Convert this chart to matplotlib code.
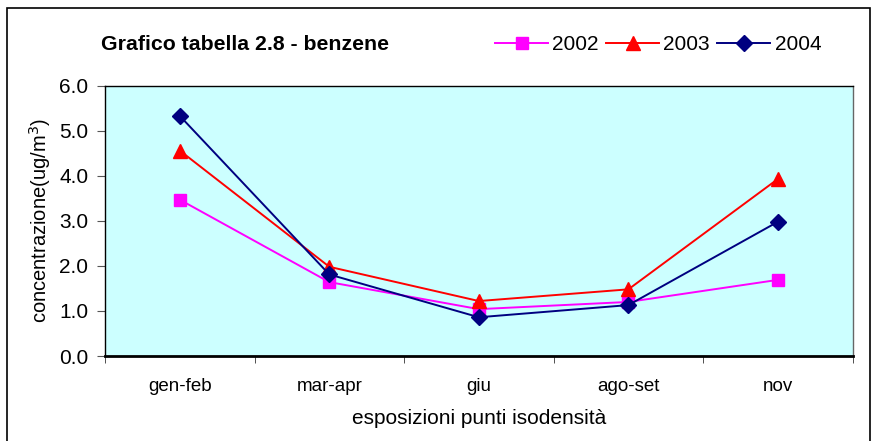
import matplotlib
matplotlib.use("Agg")
import matplotlib.pyplot as plt
from matplotlib.patches import Rectangle

plt.rcParams['font.family'] = ['Liberation Sans', 'DejaVu Sans']

categories = ["gen-feb", "mar-apr", "giu", "ago-set", "nov"]
years = ["2002", "2003", "2004"]
values_2002 = [3.47, 1.64, 1.04, 1.20, 1.69]
values_2003 = [4.56, 1.98, 1.22, 1.48, 3.93]
values_2004 = [5.33, 1.81, 0.86, 1.13, 2.98]
y_ticks = [0.0, 1.0, 2.0, 3.0, 4.0, 5.0, 6.0]

series = [
    (values_2002, "#FF00FF", "s", 9),
    (values_2003, "#FF0000", "^", 10),
    (values_2004, "#000080", "D", 8),
]

fig = plt.figure(figsize=(8.76, 4.41), dpi=100)
fig.patch.set_facecolor("white")

# outer chart frame
fig.add_artist(Rectangle((7 / 876, -0.05), (870 - 7) / 876, 1.05 - 8 / 441,
                         transform=fig.transFigure, fill=False,
                         edgecolor="black", linewidth=1.2))

ax = fig.add_axes([105 / 876, 1 - 356 / 441, (852.7 - 105) / 876, (356 - 85.7) / 441])
ax.set_facecolor("#CCFFFF")

x = list(range(len(categories)))
handles = []
for (vals, color, marker, ms), label in zip(series, years):
    h, = ax.plot(x, vals, color=color, marker=marker, markersize=ms,
                 linewidth=1.4, markeredgecolor=color, label=label)
    handles.append(h)

ax.set_xlim(-0.5, len(categories) - 0.5)
ax.set_ylim(0, 6)
ax.set_yticks(y_ticks)
ax.set_yticklabels([f"{v:.1f}" for v in y_ticks], fontsize=15)
ax.set_xticks(x)
ax.set_xticklabels(categories, fontsize=13.5)
ax.tick_params(axis="x", which="major", length=0, pad=16)
ax.set_xticks([i - 0.5 for i in range(len(categories) + 1)], minor=True)
ax.tick_params(axis="x", which="minor", length=5, direction="out", color="#333333")
ax.tick_params(axis="y", length=6, direction="out", color="#555555", pad=6)

for side in ["top", "left"]:
    ax.spines[side].set_color("black")
    ax.spines[side].set_linewidth(1.0)
ax.spines["right"].set_color("#666666")
ax.spines["right"].set_linewidth(1.0)
ax.spines["bottom"].set_color("black")
ax.spines["bottom"].set_linewidth(2.0)

ax.set_ylabel("concentrazione(ug/m$^3$)", fontsize=14.5)
ax.yaxis.set_label_coords((40 - 105) / (852.7 - 105), 0.5)
ax.set_xlabel("esposizioni punti isodensità", fontsize=15)
ax.xaxis.set_label_coords(0.5, -(419 - 356) / (356 - 85.7))
ax.xaxis.label.set_va("center")
ax.yaxis.label.set_va("center")

fig.text(101 / 876, 1 - 44 / 441, "Grafico tabella 2.8 - benzene",
         fontsize=15.3, fontweight="bold", va="center", ha="left")

leg = fig.legend(handles=handles, labels=years, loc="center left",
                 bbox_to_anchor=(495 / 876, 1 - 45 / 441), ncol=3, frameon=False,
                 fontsize=15, handlelength=2.55, handletextpad=0.2,
                 columnspacing=0.35, borderaxespad=0, borderpad=0)

fig.savefig("out.png", dpi=100)
